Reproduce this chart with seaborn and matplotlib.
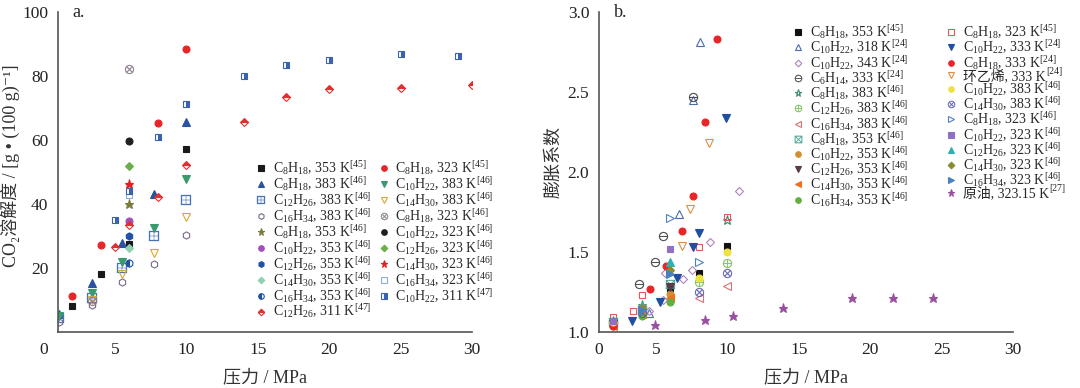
import matplotlib
matplotlib.use('Agg')
import matplotlib.pyplot as plt
import pandas as pd
import seaborn as sns

# ---- panel a: CO2 solubility ----
a_labels = [
    r'C$_8$H$_{18}$, 353 K$^{[45]}$', r'C$_8$H$_{18}$, 383 K$^{[46]}$',
    r'C$_{12}$H$_{26}$, 383 K$^{[46]}$', r'C$_{16}$H$_{34}$, 383 K$^{[46]}$',
    r'C$_8$H$_{18}$, 353 K$^{[46]}$', r'C$_{10}$H$_{22}$, 353 K$^{[46]}$',
    r'C$_{12}$H$_{26}$, 353 K$^{[46]}$', r'C$_{14}$H$_{30}$, 353 K$^{[46]}$',
    r'C$_{16}$H$_{34}$, 353 K$^{[46]}$', r'C$_{12}$H$_{26}$, 311 K$^{[47]}$',
    r'C$_8$H$_{18}$, 323 K$^{[45]}$', r'C$_{10}$H$_{22}$, 383 K$^{[46]}$',
    r'C$_{14}$H$_{30}$, 383 K$^{[46]}$', r'C$_8$H$_{18}$, 323 K$^{[46]}$',
    r'C$_{10}$H$_{22}$, 323 K$^{[46]}$', r'C$_{12}$H$_{26}$, 323 K$^{[46]}$',
    r'C$_{14}$H$_{30}$, 323 K$^{[46]}$', r'C$_{16}$H$_{34}$, 323 K$^{[46]}$',
    r'C$_{10}$H$_{22}$, 311 K$^{[47]}$',
]
a_x = [
    [2, 4, 6, 10],
    [1.1, 3.4, 5.5, 7.7, 10],
    [1.1, 3.4, 5.5, 7.7, 10],
    [1.1, 3.4, 5.5, 7.7, 10],
    [6], [6], [6], [6], [6],
    [5, 6, 8, 10, 14, 17, 20, 25, 30],
    [2, 4, 8, 10],
    [1.1, 3.4, 5.5, 7.7, 10],
    [3.4, 5.5, 7.7, 10],
    [3.4, 6], [6], [6], [6], [6],
    [5, 6, 8, 10, 14, 17, 20, 25, 29],
]
a_y = [
    [8.0, 18.0, 27.4, 57.3],
    [5.5, 15.4, 27.9, 43.0, 65.5],
    [4.5, 10.6, 20.0, 29.9, 41.4],
    [3.1, 8.5, 15.6, 21.4, 30.4],
    [40.1], [34.6], [29.9], [26.4], [21.6],
    [26.6, 33.3, 42.2, 52.3, 65.6, 73.4, 76.0, 76.4, 77.3],
    [11.4, 27.3, 65.4, 88.5],
    [5.0, 12.2, 21.9, 32.5, 47.9],
    [10.0, 18.0, 24.8, 35.9],
    [9.8, 82.3], [59.7], [51.9], [46.4], [42.9],
    [35.1, 44.0, 61.0, 71.4, 79.9, 83.3, 85.1, 87.0, 86.3],
]
# marker, colour, fill
a_styles = [
    ('s', '#1a1a1a', 'full'), ('^', '#2a52a0', 'full'),
    (r'$\boxplus$', '#4a72b8', 'full'), ('h', '#7a6a8a', 'none'),
    ('*', '#7a7a3a', 'full'), ('o', '#a050b8', 'full'),
    ('h', '#2050a8', 'full'), ('D', '#90d0b0', 'full'),
    ('o', '#2050a8', 'left'), ('D', '#e03030', 'top'),
    ('o', '#e8262a', 'full'), ('v', '#3a9a6e', 'full'),
    ('v', '#d9a53a', 'none'), (r'$\otimes$', '#8a7a8a', 'full'),
    ('o', '#202020', 'full'), ('D', '#6ab04a', 'full'),
    ('*', '#e02020', 'full'), ('s', '#8ab0d8', 'none'),
    ('s', '#3a62b0', 'right'),
]

# ---- panel b: swelling factor ----
b_labels = [
    r'C$_8$H$_{18}$, 353 K$^{[45]}$', r'C$_{10}$H$_{22}$, 318 K$^{[24]}$',
    r'C$_{10}$H$_{22}$, 343 K$^{[24]}$', r'C$_6$H$_{14}$, 333 K$^{[24]}$',
    r'C$_8$H$_{18}$, 383 K$^{[46]}$', r'C$_{12}$H$_{26}$, 383 K$^{[46]}$',
    r'C$_{16}$H$_{34}$, 383 K$^{[46]}$', r'C$_8$H$_{18}$, 353 K$^{[46]}$',
    r'C$_{10}$H$_{22}$, 353 K$^{[46]}$', r'C$_{12}$H$_{26}$, 353 K$^{[46]}$',
    r'C$_{14}$H$_{30}$, 353 K$^{[46]}$', r'C$_{16}$H$_{34}$, 353 K$^{[46]}$',
    r'C$_8$H$_{18}$, 323 K$^{[45]}$', r'C$_{10}$H$_{22}$, 333 K$^{[24]}$',
    r'C$_8$H$_{18}$, 333 K$^{[24]}$', '环乙烯, 333 K',
    r'C$_{10}$H$_{22}$, 383 K$^{[46]}$', r'C$_{14}$H$_{30}$, 383 K$^{[46]}$',
    r'C$_8$H$_{18}$, 323 K$^{[46]}$', r'C$_{10}$H$_{22}$, 323 K$^{[46]}$',
    r'C$_{12}$H$_{26}$, 323 K$^{[46]}$', r'C$_{14}$H$_{30}$, 323 K$^{[46]}$',
    r'C$_{16}$H$_{34}$, 323 K$^{[46]}$', '原油, 323.15 K',
]
b_sups = {'环乙烯, 333 K': '[24]', '原油, 323.15 K': '[27]'}
b_x = [
    [2, 6, 8, 10],
    [4.5, 6.6, 7.6, 8.1],
    [4.5, 5.5, 5.6, 6.9, 7.5, 8.8, 10.8],
    [2, 3.8, 4.9, 5.5, 7.6],
    [2, 4, 10],
    [2, 4, 8, 10],
    [4, 8, 10],
    [2, 4, 6],
    [2, 4, 6],
    [2, 4, 6],
    [2, 4, 6],
    [2, 4, 6],
    [2, 3.4, 4, 8, 10],
    [3.3, 5.3, 6.5, 7.6, 8.0, 9.9],
    [2, 4.6, 5.7, 6.8, 7.6, 8.4, 9.3],
    [6.8, 7.4, 8.7],
    [2, 4, 8, 10],
    [4, 8, 10],
    [6, 8],
    [2, 4, 6],
    [4, 6],
    [4, 6],
    [4, 6],
    [4.9, 8.4, 10.4, 13.9, 18.7, 21.6, 24.4],
]
b_y = [
    [1.05, 1.27, 1.37, 1.535],
    [1.12, 1.74, 2.45, 2.81],
    [1.13, 1.20, 1.37, 1.33, 1.39, 1.56, 1.88],
    [1.065, 1.30, 1.44, 1.60, 2.47],
    [1.07, 1.17, 1.70],
    [1.06, 1.15, 1.31, 1.43],
    [1.11, 1.21, 1.29],
    [1.06, 1.14, 1.30],
    [1.05, 1.13, 1.24],
    [1.05, 1.12, 1.28],
    [1.04, 1.11, 1.215],
    [1.04, 1.10, 1.19],
    [1.095, 1.13, 1.23, 1.53, 1.72],
    [1.07, 1.19, 1.34, 1.53, 1.62, 2.34],
    [1.04, 1.27, 1.41, 1.63, 1.85, 2.31, 2.83],
    [1.54, 1.77, 2.18],
    [1.06, 1.15, 1.34, 1.50],
    [1.12, 1.25, 1.37],
    [1.71, 1.44],
    [1.07, 1.15, 1.52],
    [1.16, 1.44],
    [1.15, 1.39],
    [1.14, 1.36],
    [1.045, 1.075, 1.10, 1.15, 1.21, 1.21, 1.21],
]
b_styles = [
    ('s', '#111111', 'full'), ('^', '#4a6ab0', 'none'),
    ('D', '#b080c0', 'none'), (r'$\ominus$', '#404040', 'full'),
    ('*', '#3a8a6a', 'none'), (r'$\oplus$', '#80c060', 'full'),
    ('<', '#e07070', 'none'), (r'$\boxtimes$', '#40a090', 'full'),
    ('o', '#d09030', 'full'), ('v', '#5a3a4a', 'full'),
    ('<', '#f07020', 'full'), ('o', '#60b040', 'full'),
    ('s', '#e05a5a', 'none'), ('v', '#1f4fa0', 'full'),
    ('o', '#e8262a', 'full'), ('v', '#e09040', 'none'),
    ('o', '#f0e040', 'full'), (r'$\otimes$', '#6060b0', 'full'),
    ('>', '#5080c0', 'none'), ('s', '#9070c0', 'full'),
    ('^', '#30b0b0', 'full'), ('D', '#8a8a30', 'full'),
    ('>', '#4a80c0', 'full'), ('*', '#9a50a0', 'full'),
]


def to_frame(labels, xs, ys):
    rows = []
    for lab, xx, yy in zip(labels, xs, ys):
        for a, b in zip(xx, yy):
            rows.append({'series': lab, 'p': a, 'v': b})
    return pd.DataFrame(rows)


def marker_kws(marker, color, fill):
    size = {'s': 4.6, 'D': 4.2, '*': 6.5, 'h': 5.2, '^': 5.2, 'v': 5.2,
            '<': 5.2, '>': 5.2, 'o': 5.0}.get(marker, 6.5)
    kw = dict(marker=marker, markersize=size, color=color,
              markeredgecolor=color, markeredgewidth=0.8)
    if marker.startswith('$'):
        kw['markeredgewidth'] = 0.2
        kw['markerfacecolor'] = color
    elif fill == 'none':
        kw['markerfacecolor'] = 'none'
    elif fill == 'full':
        kw['markerfacecolor'] = color
    else:
        kw['fillstyle'] = fill
        kw['markerfacecolor'] = color
        kw['markerfacecoloralt'] = 'white'
    return kw


def draw(ax, df, labels, styles):
    handles = []
    for lab, st in zip(labels, styles):
        sub = df[df['series'] == lab]
        sns.lineplot(data=sub, x='p', y='v', ax=ax, estimator=None, sort=False,
                     linestyle='', legend=False, **marker_kws(*st))
        line = ax.lines[-1]
        line.set_label(lab)
        handles.append(line)
    return handles


sns.set_theme(style='white')
plt.rcParams['font.family'] = ['Liberation Serif', 'Noto Sans CJK SC', 'DejaVu Sans']
plt.rcParams['mathtext.fontset'] = 'custom'
plt.rcParams['mathtext.rm'] = 'Liberation Serif'
plt.rcParams['mathtext.it'] = 'Liberation Serif:italic'
plt.rcParams['mathtext.default'] = 'regular'

fig = plt.figure(figsize=(10.8, 3.88), dpi=100)
ax1 = fig.add_axes([0.0537, 0.1443, 0.3833, 0.8247])
ax2 = fig.add_axes([0.5546, 0.1443, 0.3833, 0.8247])

df_a = to_frame(a_labels, a_x, a_y)
df_b = to_frame(b_labels, b_x, b_y)
h1 = draw(ax1, df_a, a_labels, a_styles)
h2 = draw(ax2, df_b, b_labels, b_styles)

for ax in (ax1, ax2):
    for s in ('top', 'right'):
        ax.spines[s].set_visible(False)
    for s in ('left', 'bottom'):
        ax.spines[s].set_color('#555555')
        ax.spines[s].set_linewidth(1.2)
    ax.tick_params(direction='in', length=4, width=1, color='#555555',
                   labelsize=12.5, labelcolor='#222222', pad=7)
    ax.set_xlim(1, 30)
    ax.set_xlabel('压力 / MPa', fontsize=13, color='#333333', labelpad=8)

ax1.set_ylim(0, 100)
ax1.set_yticks([20, 40, 60, 80, 100])
ax1.set_xticks([5, 10, 15, 20, 25, 30])
ax1.text(0, -0.03, '0', transform=ax1.get_xaxis_transform(), ha='center',
         va='top', fontsize=12.5, color='#222222')
ax1.set_ylabel('CO₂溶解度 / [g • (100 g)⁻¹]', fontsize=13, color='#333333')
ax1.yaxis.set_label_coords(-0.092, 0.52)
ax1.text(0.035, 1.0, 'a.', transform=ax1.transAxes, fontsize=13, va='center')

ax2.set_ylim(1.0, 3.0)
ax2.set_yticks([1.0, 1.5, 2.0, 2.5, 3.0])
ax2.set_yticklabels(['1.0', '1.5', '2.0', '2.5', '3.0'])
ax2.set_xticks([1, 5, 10, 15, 20, 25, 30])
ax2.set_xticklabels(['0', '5', '10', '15', '20', '25', '30'])
ax2.set_ylabel('膨胀系数', fontsize=13, color='#333333')
ax2.yaxis.set_label_coords(-0.089, 0.53)
ax2.text(0.035, 1.0, 'b.', transform=ax2.transAxes, fontsize=13, va='center')

leg_kw = dict(ncol=2, loc='upper left', frameon=False, fontsize=10,
              handlelength=0.6, handletextpad=0.55, borderpad=0,
              borderaxespad=0, markerscale=0.8)
leg1 = ax1.legend(handles=h1, bbox_to_anchor=(0.48, 0.54), labelspacing=-0.15,
                  columnspacing=0.6, **leg_kw)
leg2 = ax2.legend(handles=h2, bbox_to_anchor=(0.47, 0.965), labelspacing=-0.2,
                  columnspacing=2.8, **leg_kw)

# superscripts for the plain-text (Chinese) legend entries
fig.canvas.draw()
inv = fig.transFigure.inverted()
for t in leg2.get_texts():
    sup = b_sups.get(t.get_text())
    if sup:
        bb = t.get_window_extent()
        x0, y0 = inv.transform((bb.x1 + 0.5, bb.y0 + 0.5 * bb.height))
        fig.text(x0, y0, sup, fontsize=7, va='bottom', ha='left')

fig.savefig('out.png', dpi=100)
